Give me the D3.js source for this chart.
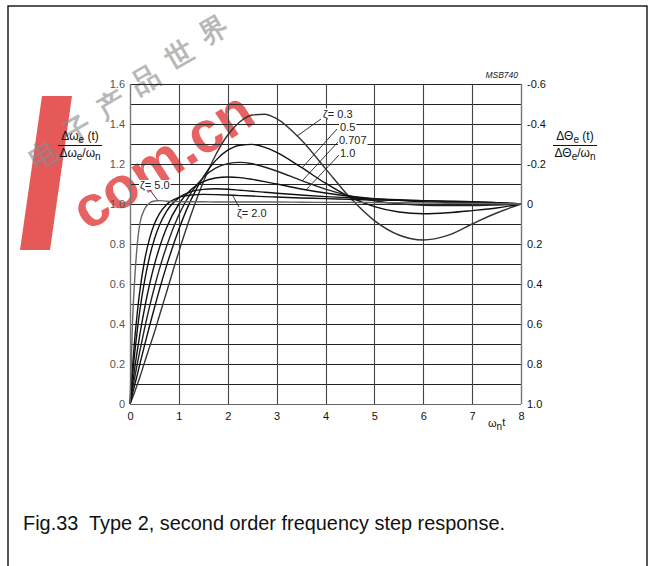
<!DOCTYPE html>
<html>
<head>
<meta charset="utf-8">
<script src="https://cdn.jsdelivr.net/npm/d3@7"></script>
<style>
  body { margin: 0; background: #fff; }
  svg { display: block; }
  text { font-family: "Liberation Sans", Arial, Helvetica, sans-serif; white-space: pre; }
</style>
</head>
<body>
<svg id="chart" width="651" height="566"></svg>
<script>
// Normalised time axis ωn·t
const T = [0, 0.05, 0.1, 0.15, 0.2, 0.3, 0.4, 0.5, 0.6, 0.75, 1, 1.25, 1.5, 1.75, 2, 2.25, 2.5, 2.75, 3, 3.5, 4, 4.5, 5, 5.5, 6, 6.5, 7, 7.5, 8];

// Step response for each damping factor ζ
const zeta03   = [0, 0.03, 0.063, 0.097, 0.133, 0.21, 0.285, 0.359, 0.44, 0.561, 0.762, 0.947, 1.11, 1.244, 1.345, 1.411, 1.445, 1.449, 1.427, 1.321, 1.177, 1.032, 0.917, 0.845, 0.82, 0.843, 0.9, 0.955, 1.0];
const zeta05   = [0, 0.05, 0.099, 0.147, 0.198, 0.296, 0.39, 0.481, 0.57, 0.693, 0.874, 1.022, 1.136, 1.217, 1.269, 1.294, 1.298, 1.284, 1.258, 1.184, 1.104, 1.035, 0.987, 0.96, 0.951, 0.956, 0.967, 0.98, 1.0];
const zeta0707 = [0, 0.07, 0.136, 0.202, 0.263, 0.38, 0.487, 0.584, 0.673, 0.79, 0.946, 1.057, 1.133, 1.179, 1.202, 1.208, 1.201, 1.185, 1.165, 1.118, 1.074, 1.04, 1.016, 1.001, 0.994, 0.992, 0.992, 0.995, 1.0];
const zeta10   = [0, 0.097, 0.186, 0.268, 0.345, 0.481, 0.598, 0.697, 0.78, 0.882, 1.0, 1.072, 1.112, 1.13, 1.135, 1.132, 1.123, 1.112, 1.1, 1.075, 1.055, 1.039, 1.027, 1.019, 1.012, 1.008, 1.005, 1.003, 1.0];
const zeta15   = [0, 0.141, 0.263, 0.371, 0.465, 0.618, 0.736, 0.825, 0.892, 0.964, 1.032, 1.062, 1.073, 1.076, 1.074, 1.069, 1.064, 1.059, 1.054, 1.045, 1.037, 1.031, 1.025, 1.021, 1.017, 1.014, 1.011, 1.007, 1.0];
const zeta20   = [0, 0.182, 0.333, 0.459, 0.563, 0.72, 0.827, 0.901, 0.951, 0.998, 1.033, 1.045, 1.048, 1.047, 1.045, 1.042, 1.04, 1.037, 1.035, 1.03, 1.027, 1.023, 1.02, 1.018, 1.016, 1.013, 1.011, 1.007, 1.0];
const zeta50   = [0, 0.4, 0.64, 0.8, 0.9, 0.975, 1.005, 1.015, 1.017, 1.014, 1.012, 1.011, 1.011, 1.01, 1.01, 1.01, 1.01, 1.01, 1.01, 1.009, 1.008, 1.008, 1.007, 1.006, 1.005, 1.004, 1.003, 1.002, 1.0];

const seriesList = [
  { values: zeta03,   color: "#333" },
  { values: zeta05,   color: "#111" },
  { values: zeta0707, color: "#222" },
  { values: zeta10,   color: "#111" },
  { values: zeta15,   color: "#111" },
  { values: zeta20,   color: "#111" },
  { values: zeta50,   color: "#666" }
];

// Axis ticks
const xTicks = [0, 1, 2, 3, 4, 5, 6, 7, 8];
const leftTicks = [0, 0.2, 0.4, 0.6, 0.8, 1.0, 1.2, 1.4, 1.6];
const rightTicks = [-0.6, -0.4, -0.2, 0, 0.2, 0.4, 0.6, 0.8, 1.0];
const gridRows = d3.range(0, 17).map(i => i / 10);

// Curve labels: text, text position, leader start, curve point (data units)
const curveLabels = [
  { text: "ζ= 0.3",  x: 323, y: 117.5, lead: [321, 119], at: [3.42, 1.34] },
  { text: "0.5",     x: 340, y: 131,   lead: [337, 129], at: [3.52, 1.18] },
  { text: "0.707",   x: 339, y: 144,   lead: [338, 142], at: [3.52, 1.115] },
  { text: "1.0",     x: 340, y: 157,   lead: [339, 155], at: [3.6, 1.07] },
  { text: "ζ= 5.0",  x: 140, y: 189,   lead: [150, 190], at: [0.57, 1.017] },
  { text: "ζ= 2.0",  x: 237, y: 216.5, lead: [239, 207], at: [2.1, 1.043] }
];

const svg = d3.select("#chart");

const x = d3.scaleLinear().domain([0, 8]).range([130, 521]);
const y = d3.scaleLinear().domain([0, 1.6]).range([404, 84]);
const yRight = d3.scaleLinear().domain([-0.6, 1.0]).range([84, 404]);

// --- watermark overlay -------------------------------------------------
const wm = svg.append("g").attr("class", "watermark");
wm.append("path")
  .attr("d", "M42,96 L72,96 L50,250 L20,250 Z")
  .attr("fill", "#e23c3c").attr("opacity", 0.85);
wm.append("text")
  .attr("transform", "translate(88,232) rotate(-33)")
  .attr("font-size", 58).attr("font-weight", "bold")
  .attr("fill", "#e23c3c").attr("opacity", 0.8)
  .text("com.cn");
["电", "子", "产", "品", "世", "界"].forEach((ch, i) => {
  wm.append("text")
    .attr("transform", `translate(${36 + i * 34},${170 - i * 25}) rotate(-30)`)
    .attr("font-family", "'Noto Sans CJK SC', sans-serif")
    .attr("font-size", 28).attr("font-weight", "bold")
    .attr("fill", "#8a8a8a").attr("opacity", 0.6)
    .text(ch);
});

// --- outer frame --------------------------------------------------------
svg.append("rect")
  .attr("x", 8).attr("y", 6).attr("width", 639).attr("height", 620)
  .attr("fill", "none").attr("stroke", "#111").attr("stroke-width", 1.4);

// --- grid ---------------------------------------------------------------
const grid = svg.append("g");
grid.selectAll("line.h").data(gridRows).join("line")
  .attr("x1", x(0)).attr("x2", x(8))
  .attr("y1", d => Math.round(y(d)) + 0.5).attr("y2", d => Math.round(y(d)) + 0.5)
  .attr("stroke", d => (d === 0 ? "#666" : "#222")).attr("stroke-width", 1);
grid.selectAll("line.v").data(xTicks).join("line")
  .attr("y1", y(0)).attr("y2", y(1.6))
  .attr("x1", d => Math.round(x(d)) + 0.5).attr("x2", d => Math.round(x(d)) + 0.5)
  .attr("stroke", d => (d === 0 || d === 8 ? "#777" : "#444"))
  .attr("stroke-width", d => (d === 0 || d === 8 ? 1.4 : 1.1));

// --- axes ---------------------------------------------------------------
const fmtLeft = v => (v === 0 ? "0" : v.toFixed(1));
const fmtRight = v => (Math.abs(v) < 1e-9 ? "0" : (v < 0 ? "-" : "") + Math.abs(v).toFixed(1));

const axL = svg.append("g").attr("transform", `translate(${x(0)},0)`)
  .call(d3.axisLeft(y).tickValues(leftTicks).tickFormat(fmtLeft).tickSize(0).tickPadding(5));
const axR = svg.append("g").attr("transform", `translate(${x(8)},0)`)
  .call(d3.axisRight(yRight).tickValues(rightTicks).tickFormat(fmtRight).tickSize(0).tickPadding(6));
const axB = svg.append("g").attr("transform", `translate(0,${y(0)})`)
  .call(d3.axisBottom(x).tickValues(xTicks).tickFormat(d3.format("d")).tickSize(0).tickPadding(8));
[axL, axR, axB].forEach(a => {
  a.select(".domain").remove();
  a.selectAll("text").attr("font-family", "'Liberation Sans', Arial, sans-serif").attr("font-size", 11);
});
axL.selectAll("text").attr("fill", "#555");
axR.selectAll("text").attr("fill", "#111");
axB.selectAll("text").attr("fill", "#111");

// --- curves -------------------------------------------------------------
const line = d3.line()
  .x((d, i) => x(T[i]))
  .y(d => y(d))
  .curve(d3.curveMonotoneX);
svg.append("g").selectAll("path").data(seriesList).join("path")
  .attr("d", s => line(s.values))
  .attr("fill", "none")
  .attr("stroke", s => s.color)
  .attr("stroke-width", 1.4);

// --- curve labels with leaders -------------------------------------------
const lbl = svg.append("g");
curveLabels.forEach(c => {
  const t = lbl.append("text").attr("x", c.x).attr("y", c.y)
    .attr("font-size", 11).attr("fill", "#222").text(c.text);
  const bb = t.node().getBBox();
  lbl.insert("rect", "text")
    .attr("x", bb.x - 1).attr("y", bb.y + 1).attr("width", bb.width + 2).attr("height", bb.height - 2)
    .attr("fill", "#fff");
  lbl.append("line")
    .attr("x1", c.lead[0]).attr("y1", c.lead[1])
    .attr("x2", x(c.at[0])).attr("y2", y(c.at[1]))
    .attr("stroke", "#222").attr("stroke-width", 0.9);
});

// --- axis titles ---------------------------------------------------------
function fraction(cx, top, bottom) {
  const g = svg.append("g").attr("font-size", 12).attr("fill", "#111");
  const n = g.append("text").attr("x", cx).attr("y", 139.5).attr("text-anchor", "middle");
  top(n);
  const d = g.append("text").attr("x", cx).attr("y", 157).attr("text-anchor", "middle");
  bottom(d);
  g.append("line").attr("x1", cx - 22).attr("x2", cx + 22).attr("y1", 145.5).attr("y2", 145.5)
    .attr("stroke", "#111").attr("stroke-width", 1);
}
fraction(80,
  t => { t.append("tspan").text("Δω"); t.append("tspan").attr("dy", 3).attr("font-size", 10).text("e"); t.append("tspan").attr("dy", -3).text(" (t)"); },
  t => { t.append("tspan").text("Δω"); t.append("tspan").attr("dy", 3).attr("font-size", 10).text("e"); t.append("tspan").attr("dy", -3).text("/ω"); t.append("tspan").attr("dy", 3).attr("font-size", 10).text("n"); });
fraction(575,
  t => { t.append("tspan").text("ΔΘ"); t.append("tspan").attr("dy", 3).attr("font-size", 10).text("e"); t.append("tspan").attr("dy", -3).text(" (t)"); },
  t => { t.append("tspan").text("ΔΘ"); t.append("tspan").attr("dy", 3).attr("font-size", 10).text("e"); t.append("tspan").attr("dy", -3).text("/ω"); t.append("tspan").attr("dy", 3).attr("font-size", 10).text("n"); });

// ωn·t label
const xt = svg.append("text").attr("x", 488).attr("y", 427).attr("font-size", 11).attr("fill", "#111");
xt.append("tspan").text("ω");
xt.append("tspan").attr("dy", 3).attr("font-size", 10).text("n");
xt.append("tspan").attr("dy", -4).text("t");

// drawing reference code
svg.append("text").attr("x", 518).attr("y", 78).attr("text-anchor", "end")
  .attr("font-size", 8.5).attr("font-style", "italic").attr("fill", "#222").text("MSB740");

// caption
svg.append("text").attr("x", 23).attr("y", 530).attr("font-size", 21).attr("fill", "#111")
  .attr("textLength", 482).attr("lengthAdjust", "spacingAndGlyphs")
  .text("Fig.33  Type 2, second order frequency step response.");
</script>
</body>
</html>
